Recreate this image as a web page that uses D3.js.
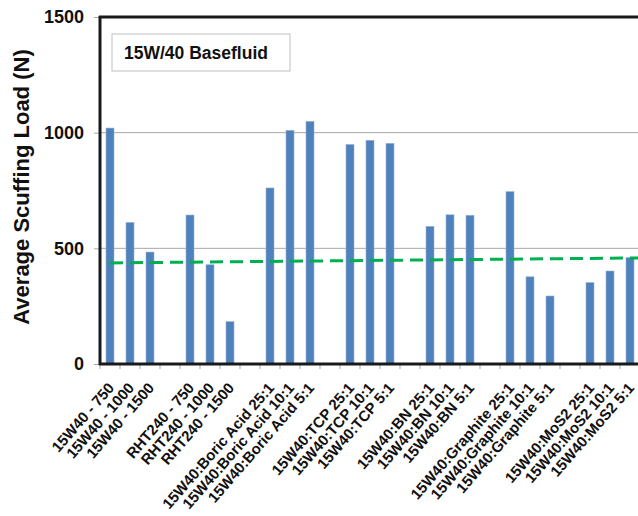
<!DOCTYPE html>
<html>
<head>
<meta charset="utf-8">
<script src="https://cdn.jsdelivr.net/npm/d3@7"></script>
<style>
  body { margin: 0; background: #fff; }
  svg { display: block; font-family: "Liberation Sans", Arial, sans-serif; }
</style>
</head>
<body>
<div id="chart"></div>
<script>
// categories (null = empty slot between groups)
var categories = [
  "15W40 - 750", "15W40 - 1000", "15W40 - 1500", null,
  "RHT240 - 750", "RHT240 - 1000", "RHT240 - 1500", null,
  "15W40:Boric Acid 25:1", "15W40:Boric Acid 10:1", "15W40:Boric Acid 5:1", null,
  "15W40:TCP 25:1", "15W40:TCP 10:1", "15W40:TCP 5:1", null,
  "15W40:BN 25:1", "15W40:BN 10:1", "15W40:BN 5:1", null,
  "15W40:Graphite 25:1", "15W40:Graphite 10:1", "15W40:Graphite 5:1", null,
  "15W40:MoS2 25:1", "15W40:MoS2 10:1", "15W40:MoS2 5:1"
];
var loads = [
  1020, 612, 484, null,
  644, 429, 183, null,
  761, 1010, 1049, null,
  949, 967, 954, null,
  595, 645, 643, null,
  745, 377, 294, null,
  352, 402, 460
];
// basefluid reference line, value at first and last slot
var baseLine = [437, 458];
var yTicks = [0, 500, 1000, 1500];
var legendText = "15W/40 Basefluid";

var svgWidth = 638, svgHeight = 516;
var margin = { top: 17, right: -2, bottom: 152, left: 100 };
var width = svgWidth - margin.left - margin.right;
var height = svgHeight - margin.top - margin.bottom;

var svg = d3.select("#chart").append("svg")
  .attr("width", svgWidth)
  .attr("height", svgHeight);

var chartGroup = svg.append("g")
  .attr("transform", `translate(${margin.left}, ${margin.top})`);

var xScale = d3.scaleBand()
  .domain(d3.range(categories.length))
  .range([0, width])
  .paddingInner(0.6)
  .paddingOuter(0.3);

var yScale = d3.scaleLinear()
  .domain([0, 1500])
  .range([height, 0]);

// gridlines
chartGroup.append("g")
  .selectAll("line")
  .data(yTicks.filter(d => d > 0 && d < 1500))
  .enter()
  .append("line")
  .attr("x1", 0)
  .attr("x2", width)
  .attr("y1", d => yScale(d))
  .attr("y2", d => yScale(d))
  .attr("stroke", "#a6a6a6")
  .attr("stroke-width", 1);

// y axis
var yAxis = d3.axisLeft(yScale)
  .tickValues(yTicks)
  .tickFormat(d3.format("d"))
  .tickSize(6)
  .tickPadding(10);
var yG = chartGroup.append("g").call(yAxis);
yG.select(".domain").remove();
yG.selectAll(".tick line").attr("stroke", "#a6a6a6");
yG.selectAll(".tick text")
  .attr("font-size", "18px")
  .attr("font-weight", "bold")
  .attr("fill", "#111");

// x ticks at slot boundaries
var step = xScale.step();
chartGroup.append("g")
  .selectAll("line")
  .data(d3.range(categories.length + 1))
  .enter()
  .append("line")
  .attr("x1", d => d * step)
  .attr("x2", d => d * step)
  .attr("y1", height)
  .attr("y2", height + 5)
  .attr("stroke", "#a6a6a6");

// bars
chartGroup.selectAll("rect.bar")
  .data(loads.map((v, i) => ({ i: i, v: v })).filter(d => d.v !== null))
  .enter()
  .append("rect")
  .attr("class", "bar")
  .attr("x", d => xScale(d.i))
  .attr("y", d => yScale(d.v))
  .attr("width", xScale.bandwidth())
  .attr("height", d => height - yScale(d.v))
  .attr("fill", "#4f81bd")
  .attr("stroke", "#9fb3cc")
  .attr("stroke-width", 0.6);

// basefluid dashed line
var lineX = d3.scaleLinear()
  .domain([0, 1])
  .range([xScale(0) + xScale.bandwidth() / 2, xScale(categories.length - 1) + xScale.bandwidth() / 2]);
var lineY = d3.scaleLinear().domain([0, 1]).range(baseLine);
chartGroup.append("line")
  .attr("x1", lineX(0))
  .attr("y1", yScale(lineY(0)))
  .attr("x2", lineX(1.02))
  .attr("y2", yScale(lineY(1.02)))
  .attr("stroke", "#00b050")
  .attr("stroke-width", 3)
  .attr("stroke-dasharray", "13,7");

// axis frame: left, bottom, top
chartGroup.append("line")
  .attr("x1", 0).attr("x2", 0)
  .attr("y1", -1).attr("y2", height + 1)
  .attr("stroke", "#1a1a1a").attr("stroke-width", 3);
chartGroup.append("line")
  .attr("x1", -1).attr("x2", width)
  .attr("y1", height).attr("y2", height)
  .attr("stroke", "#1a1a1a").attr("stroke-width", 3);
chartGroup.append("line")
  .attr("x1", -1).attr("x2", width)
  .attr("y1", 0).attr("y2", 0)
  .attr("stroke", "#1a1a1a").attr("stroke-width", 3);

// x labels
chartGroup.append("g")
  .selectAll("text")
  .data(categories.map((c, i) => ({ i: i, c: c })).filter(d => d.c !== null))
  .enter()
  .append("text")
  .attr("transform", d => `translate(${xScale(d.i) + xScale.bandwidth() / 2 + 1}, ${height + 21}) rotate(-49)`)
  .attr("text-anchor", "end")
  .attr("dy", "0.35em")
  .attr("font-size", "15px")
  .attr("font-weight", "bold")
  .attr("fill", "#111")
  .text(d => d.c);

// y axis title
svg.append("text")
  .attr("transform", `translate(29, 187) rotate(-90)`)
  .attr("text-anchor", "middle")
  .attr("font-size", "22px")
  .attr("font-weight", "bold")
  .attr("fill", "#111")
  .text("Average Scuffing Load (N)");

// legend box
chartGroup.append("rect")
  .attr("x", 12).attr("y", 17)
  .attr("width", 178).attr("height", 37)
  .attr("fill", "#fff")
  .attr("stroke", "#bfbfbf");
chartGroup.append("text")
  .attr("x", 24).attr("y", 42)
  .attr("font-size", "17.5px")
  .attr("font-weight", "bold")
  .attr("fill", "#111")
  .text(legendText);
</script>
</body>
</html>
